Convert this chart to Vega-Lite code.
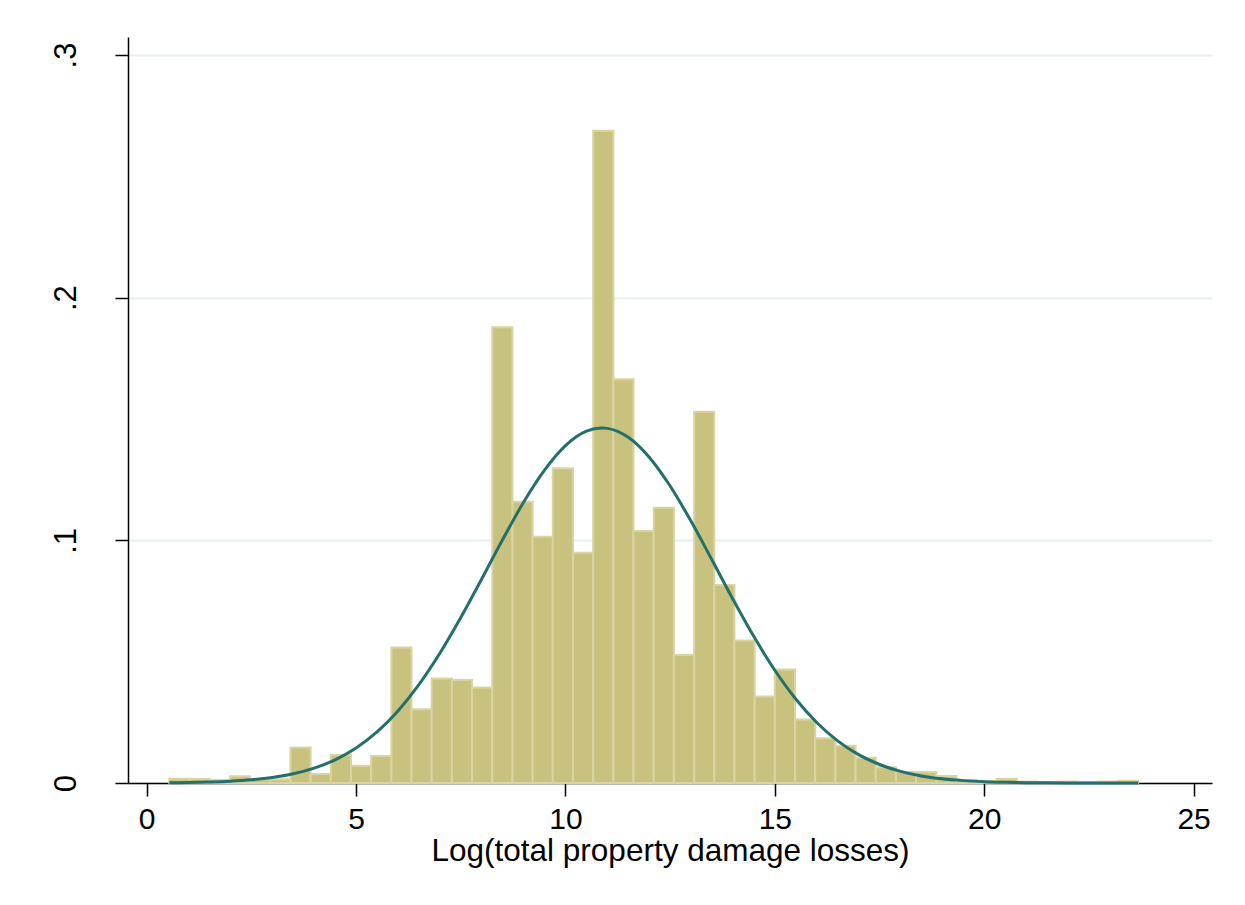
{
  "$schema": "https://vega.github.io/schema/vega-lite/v6.json",
  "width": 1084,
  "height": 746,
  "autosize": {"type": "none"},
  "padding": {"left": 128, "top": 37, "right": 33, "bottom": 122},
  "background": "white",
  "config": {
    "view": {"stroke": null},
    "font": "Liberation Sans"
  },
  "datasets": {
    "bins": [
      {"bin_start": 0.540, "bin_end": 1.022, "density": 0.0018},
      {"bin_start": 1.022, "bin_end": 1.504, "density": 0.0016},
      {"bin_start": 1.504, "bin_end": 1.986, "density": 0.0012},
      {"bin_start": 1.986, "bin_end": 2.468, "density": 0.0028},
      {"bin_start": 2.468, "bin_end": 2.950, "density": 0.0015},
      {"bin_start": 2.950, "bin_end": 3.432, "density": 0.0015},
      {"bin_start": 3.432, "bin_end": 3.914, "density": 0.0146},
      {"bin_start": 3.914, "bin_end": 4.396, "density": 0.0037},
      {"bin_start": 4.396, "bin_end": 4.878, "density": 0.0115},
      {"bin_start": 4.878, "bin_end": 5.360, "density": 0.0071},
      {"bin_start": 5.360, "bin_end": 5.842, "density": 0.0111},
      {"bin_start": 5.842, "bin_end": 6.324, "density": 0.0558},
      {"bin_start": 6.324, "bin_end": 6.806, "density": 0.0304},
      {"bin_start": 6.806, "bin_end": 7.288, "density": 0.0431},
      {"bin_start": 7.288, "bin_end": 7.770, "density": 0.0424},
      {"bin_start": 7.770, "bin_end": 8.252, "density": 0.0394},
      {"bin_start": 8.252, "bin_end": 8.734, "density": 0.1878},
      {"bin_start": 8.734, "bin_end": 9.216, "density": 0.1159},
      {"bin_start": 9.216, "bin_end": 9.698, "density": 0.1015},
      {"bin_start": 9.698, "bin_end": 10.180, "density": 0.1297},
      {"bin_start": 10.180, "bin_end": 10.662, "density": 0.0949},
      {"bin_start": 10.662, "bin_end": 11.144, "density": 0.2688},
      {"bin_start": 11.144, "bin_end": 11.626, "density": 0.1664},
      {"bin_start": 11.626, "bin_end": 12.108, "density": 0.1038},
      {"bin_start": 12.108, "bin_end": 12.590, "density": 0.1134},
      {"bin_start": 12.590, "bin_end": 13.072, "density": 0.0527},
      {"bin_start": 13.072, "bin_end": 13.554, "density": 0.1530},
      {"bin_start": 13.554, "bin_end": 14.036, "density": 0.0816},
      {"bin_start": 14.036, "bin_end": 14.518, "density": 0.0587},
      {"bin_start": 14.518, "bin_end": 15.000, "density": 0.0356},
      {"bin_start": 15.000, "bin_end": 15.482, "density": 0.0468},
      {"bin_start": 15.482, "bin_end": 15.964, "density": 0.0262},
      {"bin_start": 15.964, "bin_end": 16.446, "density": 0.0184},
      {"bin_start": 16.446, "bin_end": 16.928, "density": 0.0154},
      {"bin_start": 16.928, "bin_end": 17.410, "density": 0.0104},
      {"bin_start": 17.410, "bin_end": 17.892, "density": 0.0065},
      {"bin_start": 17.892, "bin_end": 18.374, "density": 0.0045},
      {"bin_start": 18.374, "bin_end": 18.856, "density": 0.0045},
      {"bin_start": 18.856, "bin_end": 19.338, "density": 0.0029},
      {"bin_start": 19.338, "bin_end": 19.820, "density": 0.0012},
      {"bin_start": 19.820, "bin_end": 20.302, "density": 0.0008},
      {"bin_start": 20.302, "bin_end": 20.784, "density": 0.0016},
      {"bin_start": 20.784, "bin_end": 21.266, "density": 0.0006},
      {"bin_start": 21.266, "bin_end": 21.748, "density": 0.0004},
      {"bin_start": 21.748, "bin_end": 22.230, "density": 0.0006},
      {"bin_start": 22.230, "bin_end": 22.712, "density": 0.0004},
      {"bin_start": 22.712, "bin_end": 23.194, "density": 0.0006},
      {"bin_start": 23.194, "bin_end": 23.676, "density": 0.0009}
    ],
    "normal": [
      {"x": 0.54, "density": 0.000112},
      {"x": 1.0, "density": 0.000209},
      {"x": 1.5, "density": 0.000400},
      {"x": 2.0, "density": 0.000738},
      {"x": 2.5, "density": 0.001316},
      {"x": 3.0, "density": 0.002274},
      {"x": 3.5, "density": 0.003795},
      {"x": 4.0, "density": 0.006126},
      {"x": 4.5, "density": 0.009561},
      {"x": 5.0, "density": 0.01442},
      {"x": 5.5, "density": 0.02104},
      {"x": 6.0, "density": 0.02970},
      {"x": 6.5, "density": 0.04051},
      {"x": 7.0, "density": 0.05344},
      {"x": 7.5, "density": 0.06818},
      {"x": 8.0, "density": 0.08409},
      {"x": 8.5, "density": 0.1003},
      {"x": 9.0, "density": 0.1157},
      {"x": 9.5, "density": 0.1289},
      {"x": 10.0, "density": 0.1390},
      {"x": 10.5, "density": 0.14496},
      {"x": 10.87, "density": 0.1463},
      {"x": 11.0, "density": 0.14613},
      {"x": 11.5, "density": 0.14245},
      {"x": 12.0, "density": 0.13426},
      {"x": 12.5, "density": 0.12237},
      {"x": 13.0, "density": 0.10784},
      {"x": 13.5, "density": 0.09190},
      {"x": 14.0, "density": 0.07572},
      {"x": 14.5, "density": 0.06033},
      {"x": 15.0, "density": 0.04647},
      {"x": 15.5, "density": 0.03462},
      {"x": 16.0, "density": 0.02493},
      {"x": 16.5, "density": 0.01737},
      {"x": 17.0, "density": 0.01170},
      {"x": 17.5, "density": 0.007617},
      {"x": 18.0, "density": 0.004796},
      {"x": 18.5, "density": 0.002920},
      {"x": 19.0, "density": 0.001719},
      {"x": 19.5, "density": 0.000978},
      {"x": 20.0, "density": 0.000538},
      {"x": 20.5, "density": 0.000286},
      {"x": 21.0, "density": 0.000148},
      {"x": 21.5, "density": 0.0000733},
      {"x": 22.0, "density": 0.0000353},
      {"x": 22.5, "density": 0.0000164},
      {"x": 23.0, "density": 0.0000074},
      {"x": 23.68, "density": 0.0000024}
    ]
  },
  "layer": [
    {
      "data": {"name": "bins"},
      "mark": {"type": "rect", "fill": "#c9c27f", "stroke": "#d9d5a2", "strokeWidth": 2},
      "encoding": {
        "x": {
          "field": "bin_start",
          "type": "quantitative",
          "scale": {"domain": [-0.447, 25.44], "nice": false, "zero": false},
          "axis": {
            "title": "Log(total property damage losses)",
            "values": [0, 5, 10, 15, 20, 25],
            "format": "d",
            "grid": false,
            "domainColor": "black",
            "domainWidth": 1.5,
            "tickColor": "black",
            "tickWidth": 1.5,
            "tickSize": 13,
            "labelFontSize": 30,
            "labelColor": "black",
            "labelPadding": 8,
            "labelFlush": false,
            "titleFontSize": 31.5,
            "titleFontWeight": "normal",
            "titleColor": "black",
            "titlePadding": 1
          }
        },
        "x2": {"field": "bin_end"},
        "y": {
          "field": "density",
          "type": "quantitative",
          "scale": {"domain": [0, 0.3074], "nice": false},
          "axis": {
            "title": null,
            "values": [0, 0.1, 0.2, 0.3],
            "labelExpr": "datum.value == 0 ? '0' : replace(format(datum.value, '.1f'), '0.', '.')",
            "grid": true,
            "gridColor": "#e7f0f1",
            "gridWidth": 2,
            "domainColor": "black",
            "domainWidth": 1.5,
            "tickColor": "black",
            "tickWidth": 1.5,
            "tickSize": 13,
            "labelAngle": 270,
            "labelAlign": "center",
            "labelBaseline": "bottom",
            "labelFontSize": 31,
            "labelColor": "black",
            "labelPadding": 33,
            "labelFlush": false
          }
        },
        "y2": {"datum": 0}
      }
    },
    {
      "data": {"name": "normal"},
      "mark": {"type": "line", "color": "#23706a", "strokeWidth": 3, "interpolate": "monotone"},
      "encoding": {
        "x": {"field": "x", "type": "quantitative"},
        "y": {"field": "density", "type": "quantitative"}
      }
    }
  ]
}
